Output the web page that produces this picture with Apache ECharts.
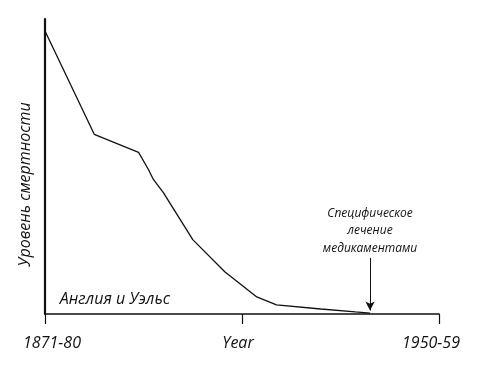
<!DOCTYPE html>
<html><head><meta charset="utf-8">
<script src="https://cdn.jsdelivr.net/npm/echarts@6/dist/echarts.min.js"></script>
<style>html,body{margin:0;padding:0;background:#fff}#c{width:486px;height:369px}</style>
</head><body><div id="c"></div>
<script>
// x in decades since 1871-80 (0 = 1871-80, 8 = 1950-59)
const xValues = [0, 1.0, 1.9, 2.1, 2.2, 2.4, 3.0, 3.65, 4.3, 4.7, 5.6, 6.3, 6.6];
const mortality = [95.9, 60.9, 54.8, 49, 45.6, 41.2, 25.2, 14.3, 5.8, 3.1, 1.7, 0.7, 0.3];
const tickLabels = {0: '1871-80', 4: 'Year', 8: '1950-59'};
const treatmentX = 6.6;
const yName = 'Уровень смертности';
const regionLabel = 'Англия и Уэльс';
const annotation = ['Специфическое', 'лечение', 'медикаментами'];

const font = '"Open Sans", "Noto Sans", sans-serif';
const chart = echarts.init(document.getElementById('c'));
chart.setOption({
  animation: false,
  grid: {left: 45, right: 47, top: 19, bottom: 55},
  xAxis: {
    type: 'value', min: 0, max: 8, interval: 4,
    axisLine: {show: true, lineStyle: {color: '#111', width: 1.5}},
    axisTick: {show: true, inside: false, length: 10, lineStyle: {color: '#111', width: 1.2}},
    splitLine: {show: false},
    axisLabel: {
      margin: 21,
      formatter: v => {
        const t = tickLabels[v] || '';
        if (v === 0) return '{a|' + t + '}';
        if (v === 4) return '{b|' + t + '}';
        return '{c|' + t + '}';
      },
      rich: {
        a: {fontFamily: font, fontStyle: 'italic', fontSize: 16, color: '#111', padding: [0, 0, 0, 14]},
        b: {fontFamily: font, fontStyle: 'italic', fontSize: 16, color: '#111', padding: [0, 8, 0, 0]},
        c: {fontFamily: font, fontStyle: 'italic', fontSize: 16, color: '#111', padding: [0, 16, 0, 0]}
      }
    }
  },
  yAxis: {
    type: 'value', min: 0, max: 100,
    name: yName, nameLocation: 'middle', nameGap: 12, nameRotate: 90,
    nameTextStyle: {fontFamily: font, fontStyle: 'italic', fontSize: 16, color: '#111', padding: [0, 36, 0, 0]},
    axisLine: {show: true, lineStyle: {color: '#111', width: 2.2}},
    axisTick: {show: false}, axisLabel: {show: false}, splitLine: {show: false}
  },
  series: [{
    type: 'line',
    data: xValues.map((x, i) => [x, mortality[i]]),
    symbol: 'none',
    lineStyle: {color: '#111', width: 1.3},
    markPoint: {
      symbol: 'circle', symbolSize: 0,
      itemStyle: {color: 'transparent'},
      label: {show: true, position: 'right', distance: 0, formatter: regionLabel, fontFamily: font, fontStyle: 'italic', fontSize: 16, color: '#111'},
      data: [{coord: [0.3, 4.8]}]
    },
    markLine: {
      silent: true,
      symbol: ['none', 'arrow'], symbolSize: [7, 9],
      lineStyle: {color: '#111', width: 1, type: 'solid'},
      label: {show: true, position: 'start', distance: 1, formatter: annotation.join('\n'), fontFamily: font, fontStyle: 'italic', fontSize: 12, lineHeight: 17.5, color: '#111'},
      data: [[{coord: [treatmentX, 19]}, {coord: [treatmentX, 1.2]}]]
    }
  }]
});
</script></body></html>
